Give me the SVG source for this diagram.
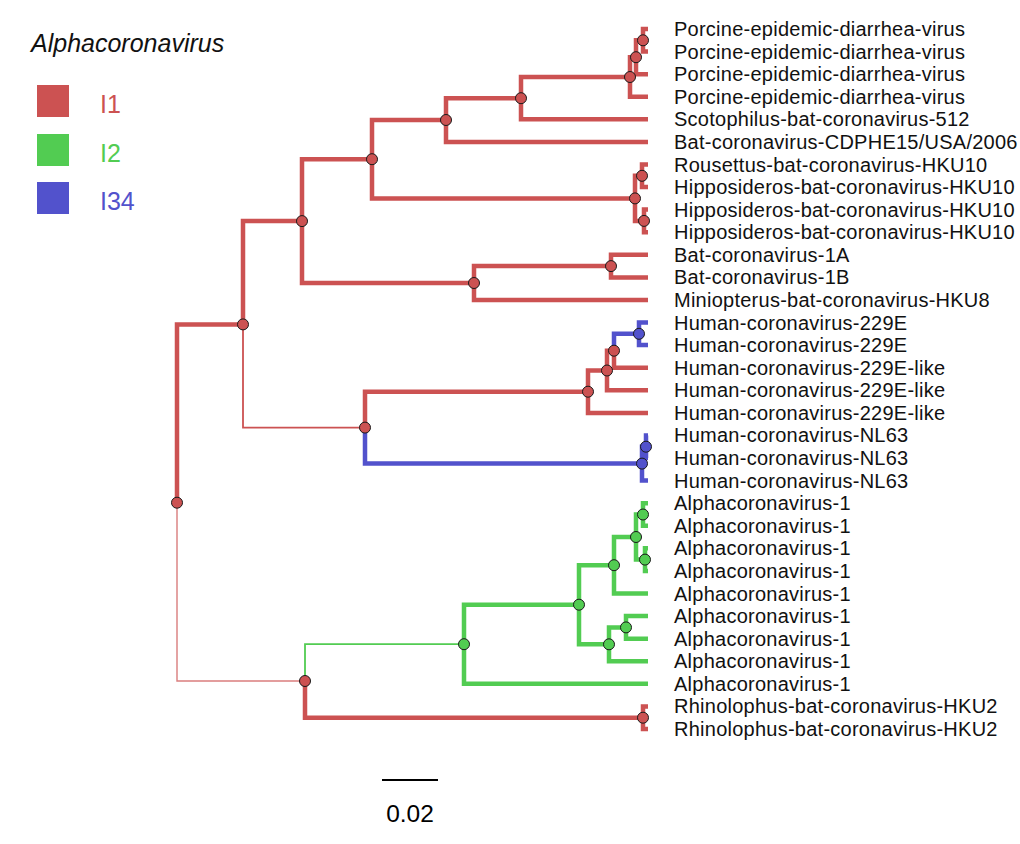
<svg xmlns="http://www.w3.org/2000/svg" width="1020" height="844" viewBox="0 0 1020 844">
<style>
.e{fill:none;stroke-width:4.5;stroke-linejoin:miter;stroke-linecap:butt}
.r{stroke:#CC5252}.g{stroke:#52CC52}.b{stroke:#5252CC}
.thin{stroke-width:1.8}
.vthin{stroke-width:1.4;stroke-opacity:0.75}
.n{stroke:#1a1a1a;stroke-width:1}
.nr{fill:#CC5252}.ng{fill:#52CC52}.nb{fill:#5252CC}
.lab{font-family:"Liberation Sans",Arial,sans-serif;font-size:20px;letter-spacing:0.25px;fill:#111}
.leg{font-family:"Liberation Sans",Arial,sans-serif;font-size:25px}
</style>
<rect width="1020" height="844" fill="#fff"/>
<g id="legend">
<text x="31" y="52" class="leg" font-size="25.6" font-style="italic" fill="#111">Alphacoronavirus</text>
<rect x="37" y="85" width="32" height="32" fill="#CC5252"/>
<rect x="37" y="134" width="32" height="32" fill="#52CC52"/>
<rect x="37" y="182" width="32" height="32" fill="#5252CC"/>
<text x="100" y="113" class="leg" fill="#CC5252">I1</text>
<text x="100" y="162" class="leg" fill="#52CC52">I2</text>
<text x="100" y="210" class="leg" fill="#5252CC">I34</text>
</g>
<g id="connectors">
<path class="e r" d="M177,502.7V324.4H243"/>
<path class="e r vthin" d="M177,502.7V681H305"/>
<path class="e r" d="M243,324.4V221.1H302"/>
<path class="e r thin" d="M243,324.4V427.6H365"/>
<path class="e r" d="M302,221.1V159.2H372"/>
<path class="e r" d="M302,221.1V283H474"/>
<path class="e r" d="M372,159.2V120H446"/>
<path class="e r" d="M372,159.2V198.4H635"/>
<path class="e r" d="M446,120V98.2H521"/>
<path class="e r" d="M446,120V141.9H648"/>
<path class="e r" d="M521,98.2V77H630"/>
<path class="e r" d="M521,98.2V119.3H648"/>
<path class="e r" d="M630,77V57.2H636"/>
<path class="e r" d="M630,77V96.7H648"/>
<path class="e r" d="M636,57.2V40.3H643"/>
<path class="e r" d="M636,57.2V74.2H648"/>
<path class="e r" d="M643,40.3V29H648"/>
<path class="e r" d="M643,40.3V51.6H648"/>
<path class="e r" d="M635,198.4V175.8H642"/>
<path class="e r" d="M635,198.4V220.9H644"/>
<path class="e r" d="M642,175.8V164.5H648"/>
<path class="e r" d="M642,175.8V187.1H648"/>
<path class="e r" d="M644,220.9V209.6H648"/>
<path class="e r" d="M644,220.9V232.2H648"/>
<path class="e r" d="M474,283V266.1H611"/>
<path class="e r" d="M474,283V300H648"/>
<path class="e r" d="M611,266.1V254.8H648"/>
<path class="e r" d="M611,266.1V277.4H648"/>
<path class="e r" d="M365,427.6V391.7H588"/>
<path class="e b" d="M365,427.6V463.6H642"/>
<path class="e r" d="M588,391.7V370.5H607"/>
<path class="e r" d="M588,391.7V412.9H648"/>
<path class="e r" d="M607,370.5V350.7H614"/>
<path class="e r" d="M607,370.5V390.3H648"/>
<path class="e b" d="M614,350.7V333.8H639"/>
<path class="e r" d="M614,350.7V367.7H648"/>
<path class="e b" d="M639,333.8V322.5H648"/>
<path class="e b" d="M639,333.8V345.1H648"/>
<path class="e b" d="M642,463.6V446.7H646"/>
<path class="e b" d="M642,463.6V480.6H648"/>
<path class="e b" d="M646,446.7V435.4H648"/>
<path class="e b" d="M646,446.7V458H648"/>
<path class="e g thin" d="M305,681V644.2H464"/>
<path class="e r" d="M305,681V717.7H643"/>
<path class="e g" d="M464,644.2V604.7H579"/>
<path class="e g" d="M464,644.2V683.8H648"/>
<path class="e g" d="M579,604.7V565.2H614"/>
<path class="e g" d="M579,604.7V644.3H609"/>
<path class="e g" d="M614,565.2V537H636"/>
<path class="e g" d="M614,565.2V593.5H648"/>
<path class="e g" d="M636,537V514.5H643"/>
<path class="e g" d="M636,537V559.6H645"/>
<path class="e g" d="M643,514.5V503.2H648"/>
<path class="e g" d="M643,514.5V525.8H648"/>
<path class="e g" d="M645,559.6V548.3H648"/>
<path class="e g" d="M645,559.6V570.9H648"/>
<path class="e g" d="M609,644.3V627.4H626"/>
<path class="e g" d="M609,644.3V661.2H648"/>
<path class="e g" d="M626,627.4V616.1H648"/>
<path class="e g" d="M626,627.4V638.7H648"/>
<path class="e r" d="M643,717.7V706.4H648"/>
<path class="e r" d="M643,717.7V729H648"/>
</g>
<g id="internal-nodes">
<g id="n-root"><circle class="n nr" cx="177" cy="502.7" r="5.5"/></g>
<g id="n-9"><circle class="n nr" cx="243" cy="324.4" r="5.5"/></g>
<g id="n-7"><circle class="n nr" cx="302" cy="221.1" r="5.5"/></g>
<g id="n-4"><circle class="n nr" cx="372" cy="159.2" r="5.5"/></g>
<g id="n-2"><circle class="n nr" cx="446" cy="120" r="5.5"/></g>
<g id="n-1"><circle class="n nr" cx="521" cy="98.2" r="5.5"/></g>
<g id="n-C"><circle class="n nr" cx="630" cy="77" r="5.5"/></g>
<g id="n-B"><circle class="n nr" cx="636" cy="57.2" r="5.5"/></g>
<g id="n-A"><circle class="n nr" cx="643" cy="40.3" r="5.5"/></g>
<g id="n-3"><circle class="n nr" cx="635" cy="198.4" r="5.5"/></g>
<g id="n-D"><circle class="n nr" cx="642" cy="175.8" r="5.5"/></g>
<g id="n-E"><circle class="n nr" cx="644" cy="220.9" r="5.5"/></g>
<g id="n-6"><circle class="n nr" cx="474" cy="283" r="5.5"/></g>
<g id="n-5"><circle class="n nr" cx="611" cy="266.1" r="5.5"/></g>
<g id="n-8"><circle class="n nr" cx="365" cy="427.6" r="5.5"/></g>
<g id="n-I"><circle class="n nr" cx="588" cy="391.7" r="5.5"/></g>
<g id="n-H"><circle class="n nr" cx="607" cy="370.5" r="5.5"/></g>
<g id="n-G"><circle class="n nr" cx="614" cy="350.7" r="5.5"/></g>
<g id="n-F"><circle class="n nb" cx="639" cy="333.8" r="5.5"/></g>
<g id="n-K"><circle class="n nb" cx="642" cy="463.6" r="5.5"/></g>
<g id="n-J"><circle class="n nb" cx="646" cy="446.7" r="5.5"/></g>
<g id="n-T"><circle class="n nr" cx="305" cy="681" r="5.5"/></g>
<g id="n-U"><circle class="n nr" cx="643" cy="717.7" r="5.5"/></g>
<g id="n-S"><circle class="n ng" cx="464" cy="644.2" r="5.5"/></g>
<g id="n-P"><circle class="n ng" cx="579" cy="604.7" r="5.5"/></g>
<g id="n-O"><circle class="n ng" cx="614" cy="565.2" r="5.5"/></g>
<g id="n-M"><circle class="n ng" cx="636" cy="537" r="5.5"/></g>
<g id="n-L"><circle class="n ng" cx="643" cy="514.5" r="5.5"/></g>
<g id="n-N"><circle class="n ng" cx="645" cy="559.6" r="5.5"/></g>
<g id="n-Q"><circle class="n ng" cx="609" cy="644.3" r="5.5"/></g>
<g id="n-R"><circle class="n ng" cx="626" cy="627.4" r="5.5"/></g>
</g>
<g id="leaves">
<g id="leaf-0"><text class="lab" x="674" y="36">Porcine-epidemic-diarrhea-virus</text></g>
<g id="leaf-1"><text class="lab" x="674" y="58.6">Porcine-epidemic-diarrhea-virus</text></g>
<g id="leaf-2"><text class="lab" x="674" y="81.2">Porcine-epidemic-diarrhea-virus</text></g>
<g id="leaf-3"><text class="lab" x="674" y="103.7">Porcine-epidemic-diarrhea-virus</text></g>
<g id="leaf-4"><text class="lab" x="674" y="126.3">Scotophilus-bat-coronavirus-512</text></g>
<g id="leaf-5"><text class="lab" x="674" y="148.9">Bat-coronavirus-CDPHE15/USA/2006</text></g>
<g id="leaf-6"><text class="lab" x="674" y="171.5">Rousettus-bat-coronavirus-HKU10</text></g>
<g id="leaf-7"><text class="lab" x="674" y="194.1">Hipposideros-bat-coronavirus-HKU10</text></g>
<g id="leaf-8"><text class="lab" x="674" y="216.6">Hipposideros-bat-coronavirus-HKU10</text></g>
<g id="leaf-9"><text class="lab" x="674" y="239.2">Hipposideros-bat-coronavirus-HKU10</text></g>
<g id="leaf-10"><text class="lab" x="674" y="261.8">Bat-coronavirus-1A</text></g>
<g id="leaf-11"><text class="lab" x="674" y="284.4">Bat-coronavirus-1B</text></g>
<g id="leaf-12"><text class="lab" x="674" y="307">Miniopterus-bat-coronavirus-HKU8</text></g>
<g id="leaf-13"><text class="lab" x="674" y="329.5">Human-coronavirus-229E</text></g>
<g id="leaf-14"><text class="lab" x="674" y="352.1">Human-coronavirus-229E</text></g>
<g id="leaf-15"><text class="lab" x="674" y="374.7">Human-coronavirus-229E-like</text></g>
<g id="leaf-16"><text class="lab" x="674" y="397.3">Human-coronavirus-229E-like</text></g>
<g id="leaf-17"><text class="lab" x="674" y="419.9">Human-coronavirus-229E-like</text></g>
<g id="leaf-18"><text class="lab" x="674" y="442.4">Human-coronavirus-NL63</text></g>
<g id="leaf-19"><text class="lab" x="674" y="465">Human-coronavirus-NL63</text></g>
<g id="leaf-20"><text class="lab" x="674" y="487.6">Human-coronavirus-NL63</text></g>
<g id="leaf-21"><text class="lab" x="674" y="510.2">Alphacoronavirus-1</text></g>
<g id="leaf-22"><text class="lab" x="674" y="532.8">Alphacoronavirus-1</text></g>
<g id="leaf-23"><text class="lab" x="674" y="555.3">Alphacoronavirus-1</text></g>
<g id="leaf-24"><text class="lab" x="674" y="577.9">Alphacoronavirus-1</text></g>
<g id="leaf-25"><text class="lab" x="674" y="600.5">Alphacoronavirus-1</text></g>
<g id="leaf-26"><text class="lab" x="674" y="623.1">Alphacoronavirus-1</text></g>
<g id="leaf-27"><text class="lab" x="674" y="645.7">Alphacoronavirus-1</text></g>
<g id="leaf-28"><text class="lab" x="674" y="668.2">Alphacoronavirus-1</text></g>
<g id="leaf-29"><text class="lab" x="674" y="690.8">Alphacoronavirus-1</text></g>
<g id="leaf-30"><text class="lab" x="674" y="713.4">Rhinolophus-bat-coronavirus-HKU2</text></g>
<g id="leaf-31"><text class="lab" x="674" y="736">Rhinolophus-bat-coronavirus-HKU2</text></g>
</g>
<g id="scale-bar">
<line x1="382" y1="780" x2="438" y2="780" stroke="#000" stroke-width="2"/>
<text x="410" y="822" text-anchor="middle" font-family="'Liberation Sans',Arial,sans-serif" font-size="24.5" fill="#000">0.02</text>
</g>
</svg>
